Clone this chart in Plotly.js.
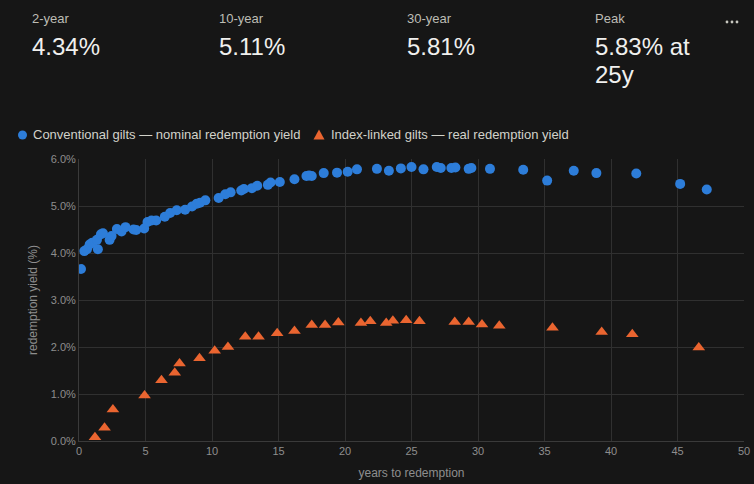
<!DOCTYPE html>
<html>
<head>
<meta charset="utf-8">
<script src="https://cdn.plot.ly/plotly-3.0.1.min.js"></script>
<style>
  html, body { margin:0; padding:0; background:#161616; width:754px; height:484px; overflow:hidden; }
  body { font-family: "Liberation Sans", Arial, sans-serif; position:relative; }
  #chart { position:absolute; left:0; top:0; width:754px; height:484px; }
  .kpi { position:absolute; top:11px; }
  .kpi .lab { font-size:13px; line-height:16px; color:#bdbdb5; height:16px; }
  .kpi .val { position:absolute; top:22px; left:0; font-size:24px; line-height:28px; color:#f0f0ee; }
  .leg { position:absolute; top:127px; font-size:13px; line-height:16px; color:#d2d2ca; white-space:nowrap; }
  .leg svg { position:absolute; }
  .dots { position:absolute; left:724px; top:12px; }
</style>
</head>
<body>
<div id="chart"></div>
<div id="overlay"></div>
<script>
// ---- KPI strip ----
var kpiLabels = ["2-year", "10-year", "30-year", "Peak"];
var kpiValues = ["4.34%", "5.11%", "5.81%", "5.83% at 25y"];

// ---- Legend ----
var seriesNames = ["Conventional gilts \u2014 nominal redemption yield", "Index-linked gilts \u2014 real redemption yield"];
var seriesColors = ["#2d7dd9", "#ea6530"];

// ---- Conventional gilts (nominal redemption yield, %) ----
var nominalYears = [0.15, 0.4, 0.6, 0.8, 1.0, 1.35, 1.42, 1.65, 1.8, 2.3, 2.45, 2.85, 3.2, 3.5, 4.1, 4.3, 4.9, 5.15, 5.45, 5.8,
  6.45, 6.85, 7.35, 7.98, 8.5, 8.86, 9.1, 9.5, 10.5, 11.0, 11.4, 12.2, 12.4, 13.0, 13.4, 14.2, 14.4, 15.1, 16.2, 17.1,
  17.3, 17.5, 18.4, 19.4, 20.2, 20.9, 22.4, 23.3, 24.2, 25.0, 25.9, 26.9, 27.2, 28.0, 28.3, 29.3, 29.5, 30.9, 33.4, 35.2,
  37.2, 38.9, 41.9, 45.2, 47.2];
var nominalYield = [3.66, 4.04, 4.08, 4.18, 4.22, 4.28, 4.08, 4.40, 4.42, 4.28, 4.36, 4.51, 4.46, 4.55, 4.50, 4.49, 4.52, 4.66, 4.69, 4.69,
  4.77, 4.85, 4.91, 4.92, 4.99, 5.05, 5.07, 5.12, 5.17, 5.25, 5.29, 5.33, 5.36, 5.38, 5.43, 5.45, 5.50, 5.51, 5.57, 5.64,
  5.65, 5.64, 5.70, 5.71, 5.73, 5.78, 5.79, 5.75, 5.80, 5.83, 5.78, 5.83, 5.81, 5.81, 5.82, 5.79, 5.81, 5.79, 5.77, 5.54,
  5.75, 5.70, 5.69, 5.47, 5.35];

// ---- Index-linked gilts (real redemption yield, %) ----
var linkedYears = [1.2, 1.92, 2.55, 4.93, 6.2, 7.2, 7.56, 9.06, 10.2, 11.2, 12.5, 13.5, 14.9, 16.2, 17.5, 18.5,
  19.5, 21.2, 21.9, 23.1, 23.6, 24.6, 25.6, 28.25, 29.3, 30.3, 31.6, 35.6, 39.3, 41.6, 46.6];
var linkedYield = [0.08, 0.28, 0.67, 0.97, 1.29, 1.45, 1.65, 1.76, 1.92, 2.00, 2.22, 2.22, 2.29, 2.34, 2.47, 2.47,
  2.52, 2.51, 2.55, 2.51, 2.56, 2.57, 2.55, 2.53, 2.53, 2.48, 2.45, 2.41, 2.32, 2.27, 1.99];

// ---- Axis text ----
var xTitle = "years to redemption";
var yTitle = "redemption yield (%)";

// Build KPI overlay
var ov = document.getElementById("overlay");
var kpiLeft = [32, 219, 407, 595];
var kpiWidth = [180, 180, 180, 118];
kpiLabels.forEach(function (lab, i) {
  var d = document.createElement("div");
  d.className = "kpi";
  d.style.left = kpiLeft[i] + "px";
  d.style.width = kpiWidth[i] + "px";
  var l = document.createElement("div"); l.className = "lab"; l.textContent = lab;
  var v = document.createElement("div"); v.className = "val"; v.textContent = kpiValues[i];
  v.style.width = kpiWidth[i] + "px";
  d.appendChild(l); d.appendChild(v);
  ov.appendChild(d);
});
// menu dots
var dots = document.createElement("div");
dots.className = "dots";
dots.innerHTML = '<svg width="16" height="8"><circle cx="3" cy="4" r="1.4" fill="#c8c8c0"/><circle cx="8" cy="4" r="1.4" fill="#c8c8c0"/><circle cx="13" cy="4" r="1.4" fill="#c8c8c0"/></svg>';
ov.appendChild(dots);

// Legend overlay
var legLeft = [18, 313];
var legSymbols = [
  '<svg width="10" height="10" style="left:0;top:3px"><circle cx="4.5" cy="5" r="4.5" fill="' + seriesColors[0] + '"/></svg>',
  '<svg width="12" height="11" style="left:0;top:2px"><path d="M0.5,10.5 L11.5,10.5 L6,0.5 Z" fill="' + seriesColors[1] + '"/></svg>'
];
var legTextOffset = [15, 18];
seriesNames.forEach(function (nm, i) {
  var d = document.createElement("div");
  d.className = "leg";
  d.style.left = legLeft[i] + "px";
  d.innerHTML = legSymbols[i];
  var s = document.createElement("span");
  s.style.position = "absolute"; s.style.left = legTextOffset[i] + "px"; s.style.top = "0px";
  s.textContent = nm;
  d.appendChild(s);
  ov.appendChild(d);
});

var grid = "#303030";
var tickCol = "#8e8e8e";
var traces = [
  {
    x: nominalYears, y: nominalYield, type: "scatter", mode: "markers", name: seriesNames[0],
    marker: { symbol: "circle", size: 10, color: seriesColors[0] }
  },
  {
    x: linkedYears, y: linkedYield, type: "scatter", mode: "markers", name: seriesNames[1],
    marker: { symbol: "triangle-up", size: 11, color: seriesColors[1] }
  }
];
var layout = {
  width: 754, height: 484,
  margin: { l: 79, r: 10, t: 159, b: 43 },
  paper_bgcolor: "#161616", plot_bgcolor: "#161616",
  showlegend: false,
  font: { family: '"Liberation Sans", Arial, sans-serif', color: tickCol, size: 11 },
  xaxis: {
    range: [0, 50], dtick: 5, tick0: 0, showgrid: true, gridcolor: grid, gridwidth: 1,
    zeroline: false, showline: true, linecolor: "#3a3a3a", linewidth: 1, mirror: false,
    ticks: "", tickfont: { size: 11, color: tickCol },
    title: { text: xTitle, font: { size: 12, color: tickCol }, standoff: 12 }
  },
  yaxis: {
    range: [0, 6], dtick: 1, tick0: 0, showgrid: true, gridcolor: grid, gridwidth: 1,
    zeroline: false, showline: true, linecolor: "#3a3a3a", linewidth: 1,
    ticks: "", tickformat: ".1f", ticksuffix: "%", tickfont: { size: 11, color: tickCol },
    title: { text: yTitle, font: { size: 12, color: tickCol }, standoff: 10 }
  }
};
Plotly.newPlot("chart", traces, layout, { displayModeBar: false, staticPlot: true });
</script>
</body>
</html>
